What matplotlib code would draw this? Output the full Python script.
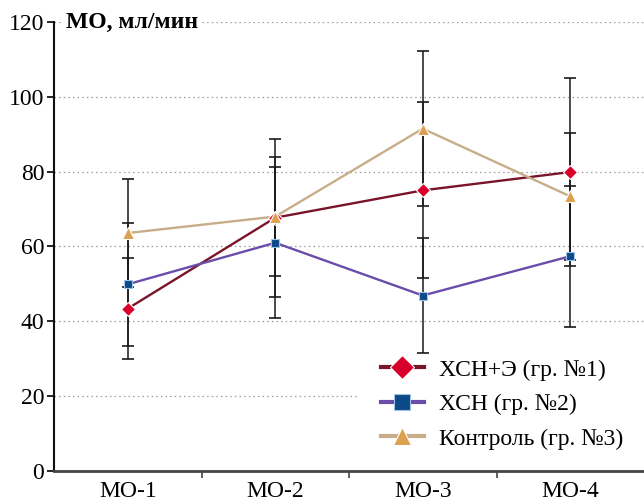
import matplotlib
matplotlib.use("Agg")
import matplotlib.pyplot as plt
from matplotlib.lines import Line2D
import numpy as np

categories = ["МО-1", "МО-2", "МО-3", "МО-4"]
labels = ["ХСН+Э (гр. №1)", "ХСН (гр. №2)", "Контроль (гр. №3)"]
s1 = [43.4, 67.7, 75.0, 79.9]
e1 = [13.6, 21.1, 23.5, 25.2]
s2 = [49.9, 61.0, 46.9, 57.4]
e2 = [16.4, 20.2, 15.4, 18.9]
s3 = [63.6, 68.0, 91.5, 73.4]
e3 = [14.4, 15.8, 20.8, 17.0]
yticks = [0, 20, 40, 60, 80, 100, 120]
ylabel = "МО, мл/мин"

plt.rcParams['font.family'] = ['Liberation Serif', 'DejaVu Serif']

fig = plt.figure(figsize=(6.44, 5.01), dpi=100)
ax = fig.add_axes([54/644, 30/501, 590/644, 449/501])
x = np.arange(len(categories))

styles = [
    dict(line='#7a1428', mfc='#d8002a', mec='white', marker='D', ms=7, lms=12),
    dict(line='#6a4caa', mfc='#0b4a86', mec='#9fc3e6', marker='s', ms=6, lms=11),
    dict(line='#c8ad8a', mfc='#dca04e', mec='white', marker='^', ms=8, lms=13),
]
series = [s1, s2, s3]
errs = [e1, e2, e3]

for s, e in zip(series, errs):
    s = np.array(s); e = np.array(e)
    ax.vlines(x, s - e, s + e, color='#1a1a1a', lw=1.1, zorder=2)
    ax.plot(x, s + e, ls='none', marker='_', ms=9, mew=1.2, color='#1a1a1a', zorder=2)
    ax.plot(x, s - e, ls='none', marker='_', ms=9, mew=1.2, color='#1a1a1a', zorder=2)

handles = []
for s, st, lab in zip(series, styles, labels):
    ax.plot(x, s, color=st['line'], lw=1.7, zorder=3)
    ax.plot(x, s, ls='none', marker=st['marker'], ms=st['ms'], mfc=st['mfc'],
            mec=st['mec'], mew=0.8, zorder=4)
    handles.append(Line2D([], [], color=st['line'], lw=3.0, marker=st['marker'],
                          ms=st['lms'], mfc=st['mfc'], mec=st['mec'], mew=0.8, label=lab))

ax.set_xlim(-0.5, 3.5)
ax.set_ylim(0, 120)
ax.set_yticks(yticks)
ax.set_yticklabels([str(v) for v in yticks])
ax.set_xticks(x)
ax.set_xticklabels(categories)
ax.set_xticks([0.5, 1.5, 2.5], minor=True)
ax.tick_params(axis='x', which='major', length=0, pad=7, labelsize=17)
ax.tick_params(axis='x', which='minor', length=5, width=1.2, color='#444444')
ax.tick_params(axis='y', length=5, width=1.2, pad=2, labelsize=17)

ax.yaxis.grid(True, linestyle=(0, (1.2, 2.5)), color='#9a9a9a', lw=0.9)
ax.set_axisbelow(True)
for sp in ['top', 'right']:
    ax.spines[sp].set_visible(False)
ax.spines['left'].set_linewidth(1.5)
ax.spines['left'].set_color('#111111')
ax.spines['bottom'].set_linewidth(2.0)
ax.spines['bottom'].set_color('#444444')

ax.text(0.02, 1.0, ylabel, transform=ax.transAxes, fontsize=17, fontweight='bold',
        va='center', ha='left', bbox=dict(facecolor='white', edgecolor='none', pad=2), zorder=5)

leg = ax.legend(handles=handles, loc='lower right', bbox_to_anchor=(1.0, 0.0),
                fontsize=17, frameon=True, facecolor='white', edgecolor='none',
                framealpha=1.0, handlelength=1.85, handletextpad=0.6,
                labelspacing=0.55, borderpad=0.9, borderaxespad=0.0)
leg.set_zorder(1)

fig.savefig("out.png", dpi=100)
